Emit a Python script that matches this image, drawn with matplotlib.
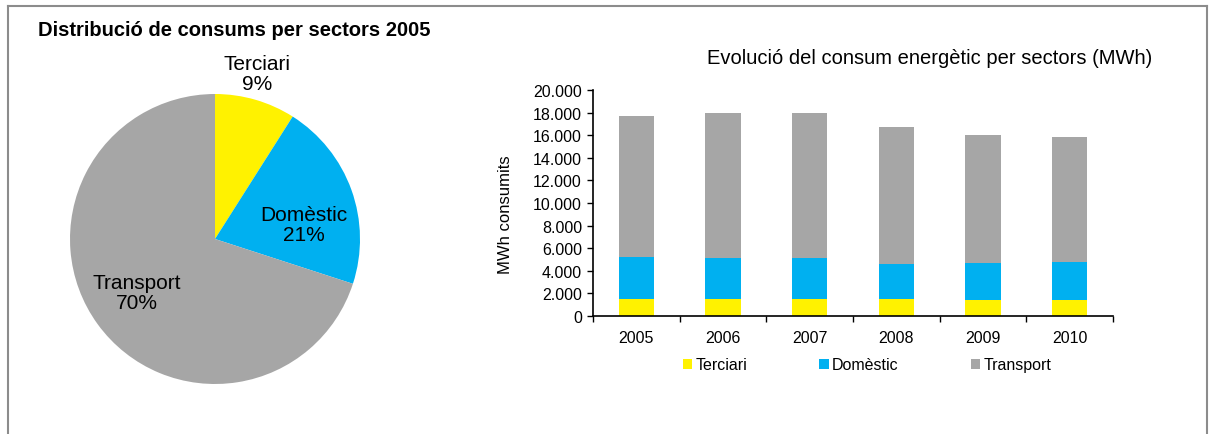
import numpy as np
import matplotlib.pyplot as plt
import matplotlib as mpl
from matplotlib.lines import Line2D
from matplotlib.patches import Patch
from matplotlib.ticker import FuncFormatter

mpl.rcParams['font.family'] = ['Liberation Sans', 'DejaVu Sans']

# data
years = ['2005', '2006', '2007', '2008', '2009', '2010']
sectors = ['Terciari', 'Domèstic', 'Transport']
terciari = [1530, 1530, 1530, 1530, 1410, 1410]
domestic = [3710, 3620, 3620, 3060, 3300, 3390]
transport = [12430, 12850, 12850, 12170, 11280, 11070]
pie_pct = [9, 21, 70]
pie_labels = ['Terciari\n9%', 'Domèstic\n21%', 'Transport\n70%']

COLORS = ['#FFF200', '#00B0F0', '#A6A6A6']

W, H = 1214, 435
fig = plt.figure(figsize=(W / 100, H / 100), dpi=100)


def px(x, y, w, h):
    # pixel box (top-left origin) -> figure fraction
    return [x / W, 1 - (y + h) / H, w / W, h / H]


# outer frame
for xs, ys in [([8, 8], [H, 7]), ([8, 1207], [7, 7]), ([1207, 1207], [7, H])]:
    fig.add_artist(Line2D([x / W for x in xs], [1 - y / H for y in ys],
                          color='#8c8c8c', linewidth=1.5))

# pie
axp = fig.add_axes(px(70, 95, 290, 290))
axp.pie(pie_pct, colors=COLORS, startangle=90, counterclock=False,
        wedgeprops=dict(linewidth=0))
axp.set_xlim(-1, 1)
axp.set_ylim(-1, 1)
axp.set_aspect('equal')
label_pos = [(0.29, 1.14), (0.61, 0.10), (-0.54, -0.37)]
for lab, (lx, ly) in zip(pie_labels, label_pos):
    axp.text(lx, ly, lab, ha='center', va='center', fontsize=15,
             linespacing=1.1)
fig.text(38 / W, 1 - 31 / H, 'Distribució de consums per sectors 2005',
         fontsize=14.5, fontweight='bold', ha='left', va='center')

# stacked bars
ax = fig.add_axes(px(593, 91, 520, 226))
x = np.arange(len(years))
bw = 0.41
bottom = np.zeros(len(years))
for vals, col, name in zip([terciari, domestic, transport], COLORS, sectors):
    ax.bar(x, vals, bw, bottom=bottom, color=col, edgecolor='none', label=name)
    bottom += np.array(vals)

ax.set_xlim(-0.5, len(years) - 0.5)
ax.set_ylim(0, 20000)
ax.set_yticks(np.arange(0, 20001, 2000))
ax.yaxis.set_major_formatter(FuncFormatter(lambda v, p: f"{int(v):,}".replace(',', '.')))
ax.set_xticks(x)
ax.set_xticklabels(years)
ax.set_xticks(np.arange(-0.5, len(years)), minor=True)
ax.tick_params(axis='x', which='major', length=0, labelsize=11.5, pad=10)
ax.tick_params(axis='x', which='minor', length=4, width=1)
ax.tick_params(axis='y', length=4, width=1, labelsize=11.5, pad=4)
for s in ['top', 'right']:
    ax.spines[s].set_visible(False)
ax.spines['left'].set_linewidth(1.2)
ax.spines['bottom'].set_linewidth(1.2)
ax.set_ylabel('MWh consumits', fontsize=12)
ax.yaxis.set_label_coords((513 - 593) / 520, (317 - 215) / 226)
fig.text(930 / W, 1 - 58 / H, 'Evolució del consum energètic per sectors (MWh)',
         fontsize=14.5, ha='center', va='center')

handles = [Patch(facecolor=c, edgecolor='none') for c in COLORS]
fig.legend(handles, sectors, loc='center', bbox_to_anchor=(867 / W, 1 - 366 / H),
           ncol=3, frameon=False, fontsize=11.5, handlelength=0.6,
           handleheight=0.6, handletextpad=0.2, columnspacing=4.5)

fig.savefig('out.png', dpi=100)
